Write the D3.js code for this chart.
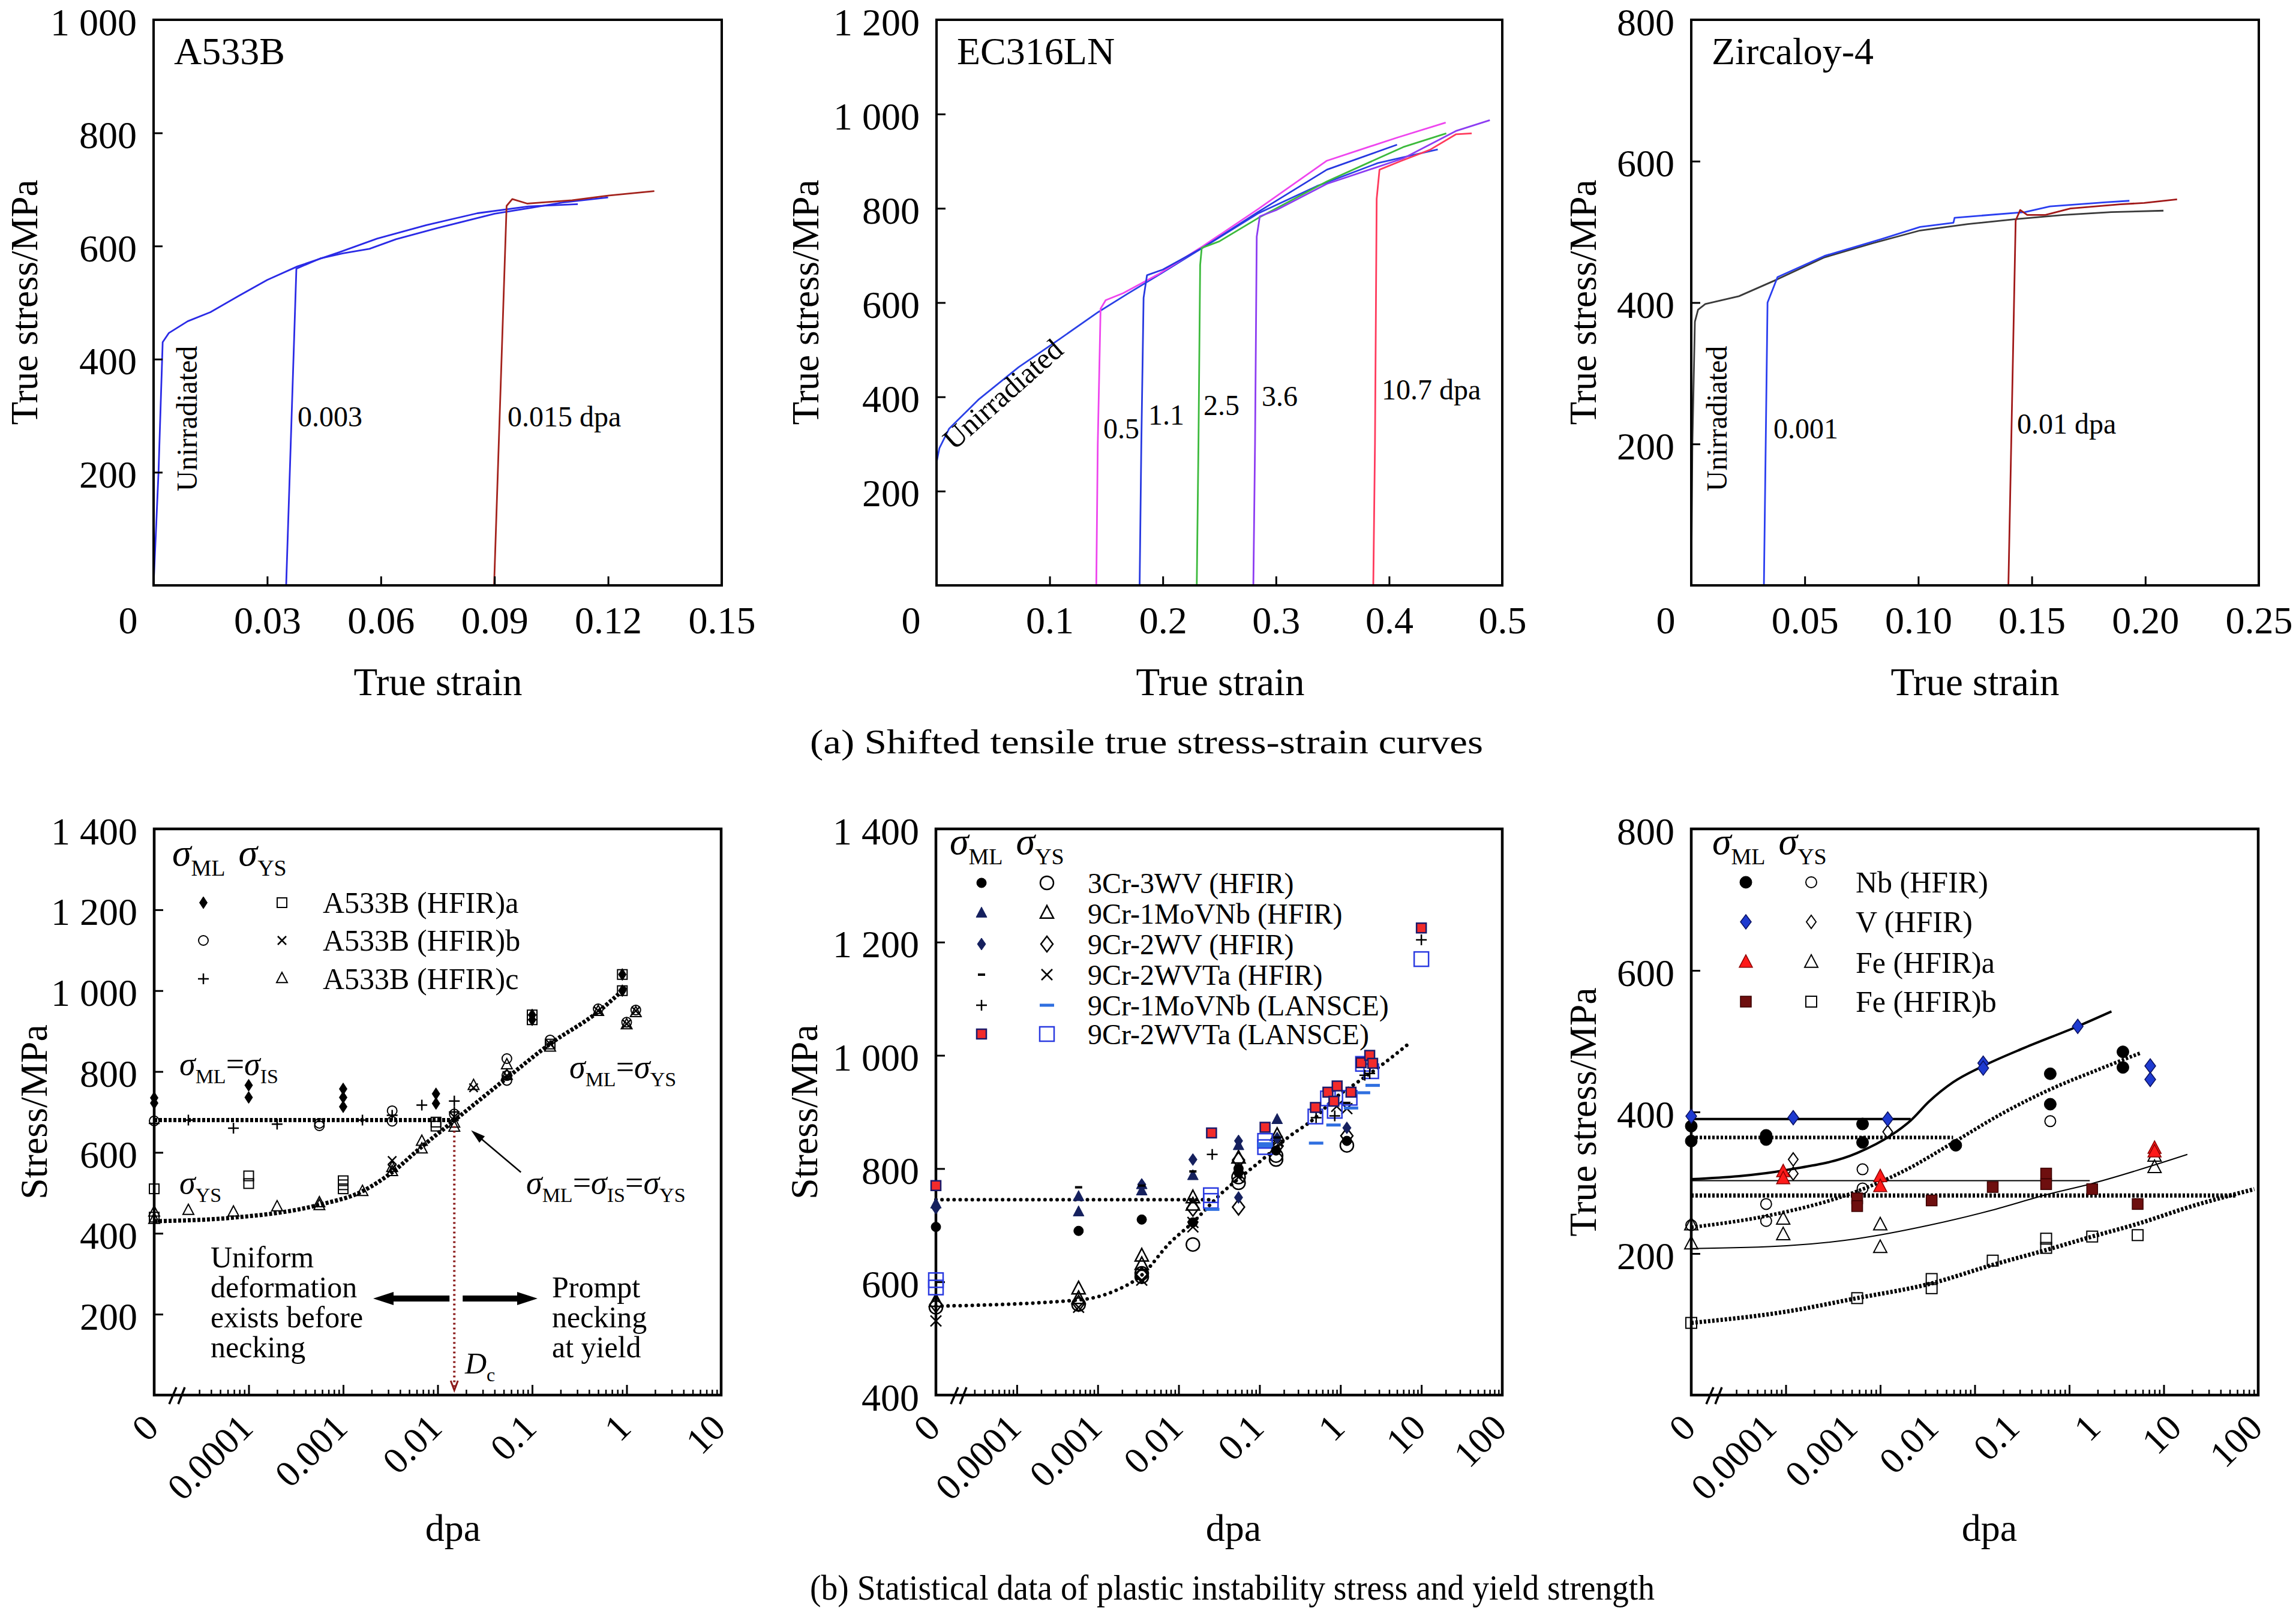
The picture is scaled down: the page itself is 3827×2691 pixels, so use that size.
<!DOCTYPE html>
<html><head><meta charset="utf-8">
<script src="https://cdn.jsdelivr.net/npm/d3@7"></script>
<style>
body{margin:0;background:#fff}
svg{display:block}
text{font-family:"Liberation Serif","Times New Roman",serif;fill:#000}
</style>
</head><body>
<svg id="c" width="3827" height="2691"></svg>
<script>
// ================= DATA =================
// Top row: tensile true stress-strain curves  [strain, stress]
const topLeftXTicks=[0,0.03,0.06,0.09,0.12,0.15];
const topLeftXLabels=["0","0.03","0.06","0.09","0.12","0.15"];
const topLeftYTicks=[200,400,600,800,1000];
const topLeftYLabels=["200","400","600","800","1 000"];
const a533bUnirr=[[0,0],[0.0013,200],[0.0024,430],[0.004,446],[0.009,467],[0.015,483],[0.0225,512],[0.030,540],[0.038,564],[0.049,589],[0.059,613],[0.072,637],[0.0855,658],[0.099,670],[0.112,674]];
const a533b003=[[0.035,0],[0.0377,560],[0.044,578],[0.05,587],[0.057,595],[0.064,612],[0.075,632],[0.09,657],[0.1,668],[0.108,677],[0.12,686]];
const a533b015=[[0.0899,0],[0.0932,671],[0.0947,683],[0.0987,675],[0.1105,681],[0.1197,689],[0.1322,697]];

const topMidXTicks=[0,0.1,0.2,0.3,0.4,0.5];
const topMidXLabels=["0","0.1","0.2","0.3","0.4","0.5"];
const topMidYTicks=[200,400,600,800,1000,1200];
const topMidYLabels=["200","400","600","800","1 000","1 200"];
const ecUnirr=[[0,260],[0.0025,291],[0.011,332],[0.0375,395],[0.0726,463],[0.1078,521],[0.143,580],[0.169,619],[0.196,658],[0.235,716],[0.284,789],[0.336,847],[0.39,896],[0.443,925]];
const ec05=[[0.1412,0],[0.1425,300],[0.145,587],[0.1495,605],[0.165,620],[0.196,660],[0.235,719],[0.284,798],[0.345,901],[0.407,950],[0.45,982]];
const ec11=[[0.1795,0],[0.181,300],[0.183,610],[0.186,658],[0.2,670],[0.235,716],[0.284,792],[0.345,882],[0.407,935]];
const ec25=[[0.23,0],[0.2315,300],[0.233,680],[0.2344,716],[0.25,730],[0.284,779],[0.345,857],[0.4125,930],[0.4505,959]];
const ec36=[[0.28,0],[0.2815,300],[0.283,740],[0.2857,783],[0.30,796],[0.345,852],[0.4125,906],[0.459,964],[0.489,987]];
const ec107=[[0.386,0],[0.3875,300],[0.389,820],[0.3915,882],[0.41,900],[0.436,924],[0.459,957],[0.473,959]];

const topRightXTicks=[0,0.05,0.10,0.15,0.20,0.25];
const topRightXLabels=["0","0.05","0.10","0.15","0.20","0.25"];
const topRightYTicks=[200,400,600,800];
const topRightYLabels=["200","400","600","800"];
const zrUnirr=[[0,0],[0.0005,200],[0.0016,373],[0.003,390],[0.0062,398],[0.021,409],[0.038,433],[0.0587,464],[0.08,484],[0.1008,502],[0.1218,511],[0.1429,518],[0.164,524],[0.185,528],[0.208,530]];
const zr001=[[0.032,0],[0.0336,400],[0.038,436],[0.0587,466],[0.084,490],[0.1008,507],[0.1155,513],[0.116,520],[0.147,528],[0.158,536],[0.183,542],[0.193,544]];
const zr01=[[0.1397,0],[0.1429,516],[0.1449,531],[0.148,524],[0.156,524],[0.167,533],[0.189,539],[0.1995,541],[0.214,546]];

// Bottom row: dpa axis ticks and labels
const dpaLabelValsA=[1e-5,1e-4,1e-3,1e-2,0.1,1,10];
const dpaLabelsA=["0","0.0001","0.001","0.01","0.1","1","10"];
const dpaLabelValsB=[1e-5,1e-4,1e-3,1e-2,0.1,1,10,100];
const dpaLabelsB=["0","0.0001","0.001","0.01","0.1","1","10","100"];
const bottomLeftYTicks=[200,400,600,800,1000,1200,1400];
const bottomLeftYLabels=["200","400","600","800","1 000","1 200","1 400"];
const bottomMidYTicks=[400,600,800,1000,1200,1400];
const bottomMidYLabels=["400","600","800","1 000","1 200","1 400"];
const bottomRightYTicks=[200,400,600,800];
const bottomRightYLabels=["200","400","600","800"];

// A533B  [dpa, stress]
const a533bNames=["A533B (HFIR)a","A533B (HFIR)b","A533B (HFIR)c"];
const a533bA_ML=[[0,735],[0,722],[1e-4,766],[1e-4,736],[1e-3,757],[1e-3,736],[1e-3,713],[0.0096,745],[0.0096,721],[0.1,940],[0.1,928],[0.9,1040],[0.9,1000]];
const a533bA_YS=[[0,510],[0,440],[1e-4,542],[1e-4,523],[1e-3,530],[1e-3,520],[1e-3,510],[0.0096,675],[0.0096,665],[0.1,940],[0.1,928],[0.155,868],[0.9,1040],[0.9,1000]];
const a533bB_ML=[[0,678],[5.6e-4,672],[5.6e-4,666],[0.0033,703],[0.0033,677],[0.015,695],[0.054,832],[0.054,790],[0.054,778],[0.155,878],[0.5,955],[1.0,922],[1.25,952]];
const a533bB_YS=[[0.0033,580],[0.0033,560],[0.015,688],[0.024,760],[0.054,790],[0.155,868],[0.5,950],[1.0,918],[1.25,950]];
const a533bC_ML=[[0,672],[2.3e-5,680],[6.9e-5,660],[2e-4,670],[1.6e-3,680],[0.0033,692],[0.0068,717],[0.015,727],[0.015,700]];
const a533bC_YS=[[0,452],[0,434],[2.3e-5,456],[6.9e-5,452],[2e-4,465],[5.6e-4,475],[5.6e-4,468],[1.6e-3,503],[0.0033,552],[0.0033,562],[0.0068,627],[0.0068,608],[0.015,672],[0.015,662],[0.024,765],[0.054,816],[0.054,790],[0.155,860],[0.5,948],[1.0,915],[1.25,945]];
const a533bFitML=[[0,680],[0.015,680]];
const a533bFitYS=[[0,430],[6.3e-5,438],[5.7e-4,471],[1.6e-3,504],[3.3e-3,551],[6.7e-3,613],[0.015,679],[0.054,784],[0.154,868],[0.5,948],[1.0,1010]];
const a533bDc=0.015;

// Ferritic steels
const steelNames=["3Cr-3WV (HFIR)","9Cr-1MoVNb (HFIR)","9Cr-2WV (HFIR)","9Cr-2WVTa (HFIR)","9Cr-1MoVNb (LANSCE)","9Cr-2WVTa (LANSCE)"];
const cr3wv_ML=[[0,697],[5.8e-4,690],[0.0035,710],[0.015,705],[0.055,793],[0.055,800],[0.16,832],[1.2,849]];
const cr3wv_YS=[[0,555],[5.8e-4,560],[0.0035,609],[0.0035,615],[0.015,666],[0.055,785],[0.055,775],[0.16,816],[0.16,823],[1.2,841]];
const moH_ML=[[0,737],[5.8e-4,750],[5.8e-4,723],[0.0035,760],[0.0035,771],[0.015,787],[0.055,840],[0.165,886]];
const moH_YS=[[0,565],[5.8e-4,587],[5.8e-4,570],[0.0035,645],[0.0035,630],[0.015,748],[0.015,735],[0.055,818],[0.165,858]];
const wv_ML=[[0,730],[0.0035,772],[0.015,816],[0.055,849],[0.055,749],[0.165,854],[1.2,872]];
const wv_YS=[[0,560],[5.8e-4,562],[0.0035,612],[0.015,730],[0.055,815],[0.055,732],[0.165,840],[1.2,858]];
const wvtaH_ML=[[5.8e-4,767],[0.0035,770],[0.015,795],[0.055,805],[0.165,855],[1.2,916]];
const wvtaH_YS=[[0,531],[5.8e-4,555],[0.0035,603],[0.015,697],[0.015,705],[0.055,785],[0.165,848],[0.9,910],[1.2,906]];
const moL_ML=[[0.026,825],[0.5,890],[0.85,893],[2.0,965],[2.3,968],[10,1204]];
const moL_YS=[[0.026,728],[0.117,844],[0.117,840],[0.5,845],[0.82,877],[1.35,907],[1.9,934],[2.5,947]];
const wvtaL_ML=[[0,770],[0.0255,863],[0.117,873],[0.49,908],[0.7,935],[0.83,919],[0.91,946],[1.35,935],[1.8,987],[2.3,1000],[2.5,986],[10,1225]];
const wvtaL_YS=[[0,603],[0,590],[0.025,753],[0.025,743],[0.117,849],[0.117,838],[0.49,892],[0.7,924],[0.85,902],[1.3,925],[1.9,985],[2.4,972],[10,1170]];
const steelFitML=[[0,745],[0.026,745]];
const steelFitYS=[[0,557],[5.8e-4,568],[1.5e-3,582],[0.0035,612],[7.8e-3,669],[0.015,705],[0.032,753],[0.117,820],[0.22,854],[0.48,889],[0.85,924],[1.6,952],[2.9,978],[6.9,1020]];

// Pure metals
const metalNames=["Nb (HFIR)","V (HFIR)","Fe (HFIR)a","Fe (HFIR)b"];
const nb_ML=[[0,380],[0,359],[6.2e-5,367],[6.2e-5,361],[6.5e-4,383],[6.5e-4,357],[6.3e-3,353],[0.063,454],[0.063,411],[0.37,485],[0.37,463]];
const nb_YS=[[0,240],[6.2e-5,270],[6.2e-5,246],[6.5e-4,319],[6.5e-4,292],[0.063,387]];
const v_ML=[[0,394],[1.2e-4,392],[1.2e-3,390],[0.0123,469],[0.0123,462],[0.123,521],[0.72,465],[0.72,446]];
const v_YS=[[1.2e-4,333],[1.2e-4,313],[1.2e-3,372]];
const feA_ML=[[9.4e-5,315],[9.4e-5,305],[0.001,308],[0.001,294],[0.8,348],[0.8,343]];
const feA_YS=[[0,240],[0,213],[9.4e-5,248],[9.4e-5,226],[0.001,240],[0.001,208],[0.8,337],[0.8,321]];
const feB_ML=[[5.7e-4,278],[5.7e-4,267],[3.5e-3,275],[0.0155,294],[0.057,313],[0.057,298],[0.175,291],[0.53,270]];
const feB_YS=[[0,102],[5.7e-4,137],[3.5e-3,164],[3.5e-3,151],[0.0155,190],[0.057,221],[0.057,208],[0.175,224],[0.53,226]];
const vFitML=[[0,390],[2.1e-3,390]];
const vFitYS=[[0,305],[1.02e-4,318],[5.7e-4,342],[1.3e-3,367],[2.1e-3,388],[3.3e-3,415],[5.9e-3,442],[0.0123,465],[0.034,491],[0.123,521],[0.28,542]];
const nbFitML=[[0,364],[5.9e-3,364]];
const nbFitYS=[[0,237],[6.2e-5,253],[5.7e-4,288],[1.86e-3,318],[6.3e-3,359],[0.019,397],[0.063,432],[0.195,459],[0.56,483]];
const feAFitML=[[0,303],[0.165,303]];
const feAFitYS=[[0,207],[1.02e-4,211],[5.7e-4,221],[3.3e-3,240],[0.015,261],[0.057,283],[0.175,299],[1.78,340]];
const feBFitML=[[0,282],[5.8,282]];
const feBFitYS=[[0,102],[1.02e-4,118],[5.7e-4,137],[3.3e-3,157],[0.0155,184],[0.057,205],[0.175,224],[0.53,242],[2.0,267],[9.1,291]];

// ================= DRAWING =================
const svg=d3.select('#c');
const FONT='"Liberation Serif","Times New Roman",serif';
const TOP_Y0=33, TOP_Y1=976, BOT_Y0=1382, BOT_Y1=2326;

function styleAxis(ax,size){
  ax.attr('font-family',FONT).attr('font-size',size);
  ax.select('.domain').remove();
  ax.selectAll('line').attr('stroke','#000').attr('stroke-width',3);
}
function txt(g,x,y,s,size,opt){
  opt=opt||{};
  const t=g.append('text').attr('x',x).attr('y',y).attr('font-size',size).text(s);
  if(opt.anchor) t.attr('text-anchor',opt.anchor);
  if(opt.rot!==undefined) t.attr('transform',`rotate(${opt.rot},${x},${y})`);
  if(opt.italic) t.attr('font-style','italic');
  if(opt.len) t.attr('textLength',opt.len).attr('lengthAdjust','spacingAndGlyphs');
  return t;
}
// text with italic sigma and subscripts
function rich(g,x,y,parts,size,sub){
  const t=g.append('text').attr('x',x).attr('y',y).attr('font-size',size);
  const sh=Math.round(size*0.26);
  let down=false;
  parts.forEach(p=>{
    const s=p[0],k=p[1]||'';
    const ts=t.append('tspan').text(s);
    if(k==='sub'){ts.attr('font-size',sub); if(!down){ts.attr('dy',sh);down=true;}}
    else{ if(down){ts.attr('dy',-sh);down=false;} if(k==='i')ts.attr('font-style','italic');}
    if(p[2]) ts.attr('dx',p[2]);
  });
  return t;
}

function topPanel(cfg){
  const g=svg.append('g');
  const x=d3.scaleLinear().domain(cfg.xd).range([cfg.x0,cfg.x1]);
  const y=d3.scaleLinear().domain(cfg.yd).range([TOP_Y1,TOP_Y0]);
  const line=d3.line().x(d=>x(d[0])).y(d=>y(d[1]));
  cfg.curves.forEach(c=>{
    g.append('path').attr('d',line(c.data)).attr('fill','none').attr('stroke',c.color)
     .attr('stroke-width',2.8).attr('stroke-linejoin','round');
  });
  const ax=g.append('g').attr('transform',`translate(0,${TOP_Y1})`)
    .call(d3.axisBottom(x).tickValues(cfg.xt).tickSize(-15).tickFormat((d,i)=>cfg.xl[i]));
  styleAxis(ax,64);
  ax.selectAll('text').attr('y',80).attr('dy',0).attr('x',d=>d===0?-43:0);
  ax.selectAll('.tick').filter(d=>d===cfg.xd[0]||d===cfg.xd[1]).select('line').remove();
  const ay=g.append('g').attr('transform',`translate(${cfg.x0},0)`)
    .call(d3.axisLeft(y).tickValues(cfg.yt).tickSize(-15).tickPadding(28).tickFormat((d,i)=>cfg.yl[i]));
  styleAxis(ay,64);
  ay.selectAll('text').attr('dy',25);
  ay.selectAll('.tick').filter(d=>d===cfg.yd[1]).select('line').remove();
  g.append('rect').attr('x',cfg.x0).attr('y',TOP_Y0).attr('width',cfg.x1-cfg.x0).attr('height',TOP_Y1-TOP_Y0)
    .attr('fill','none').attr('stroke','#000').attr('stroke-width',4);
  txt(g,cfg.ylabX,504,'True stress/MPa',63,{anchor:'middle',rot:-90});
  txt(g,cfg.xlabX,1159,'True strain',65,{anchor:'middle'});
  txt(g,cfg.x0+34,107,cfg.name,64);
  return {g,x,y};
}

// markers
function mark(g,st,cx,cy){
  const s=st.s||16, sw=st.sw||2.5, stroke=st.stroke||'#000', fill=st.fill||'none';
  let el;
  switch(st.shape){
    case 'diamond':
      el=g.append('path').attr('d',`M${cx},${cy-st.h/2}L${cx+st.w/2},${cy}L${cx},${cy+st.h/2}L${cx-st.w/2},${cy}Z`);break;
    case 'square':
      el=g.append('rect').attr('x',cx-s/2).attr('y',cy-s/2).attr('width',s).attr('height',s);break;
    case 'circle':
      el=g.append('circle').attr('cx',cx).attr('cy',cy).attr('r',st.r);break;
    case 'tri':
      el=g.append('path').attr('d',`M${cx},${cy-0.6*s}L${cx+0.5*s},${cy+0.35*s}L${cx-0.5*s},${cy+0.35*s}Z`);break;
    case 'times':
      el=g.append('path').attr('d',`M${cx-s/2},${cy-s/2}L${cx+s/2},${cy+s/2}M${cx+s/2},${cy-s/2}L${cx-s/2},${cy+s/2}`);break;
    case 'plus':
      el=g.append('path').attr('d',`M${cx-s/2},${cy}L${cx+s/2},${cy}M${cx},${cy-s/2}L${cx},${cy+s/2}`);break;
    case 'dash':
      el=g.append('rect').attr('x',cx-st.w/2).attr('y',cy-st.h/2).attr('width',st.w).attr('height',st.h);break;
  }
  el.attr('fill',fill).attr('stroke',st.shape==='dash'?'none':stroke).attr('stroke-width',sw);
}

function bottomPanel(cfg){
  const g=svg.append('g');
  const x=d3.scaleLog().domain(cfg.xd).range([cfg.x0,cfg.x1]);
  const xl=d3.scaleLog().domain(cfg.labelDomain||cfg.xd).range([cfg.x0,cfg.x1]);
  const y=d3.scaleLinear().domain(cfg.yd).range([BOT_Y1,BOT_Y0]);
  const px=d=>d<=0?cfg.x0:x(d);
  // ticks
  const lo=Math.round(Math.log10(cfg.xd[0])), hi=Math.round(Math.log10(cfg.xd[1]));
  const majors=[],minors=[];
  for(let e=lo;e<hi;e++){
    majors.push(Math.pow(10,e+1));
    for(let k=2;k<=9;k++){ if(e===lo&&k<3)continue; minors.push(k*Math.pow(10,e)); }
  }
  const am=g.append('g').attr('transform',`translate(0,${BOT_Y1})`)
    .call(d3.axisBottom(x).tickValues(majors.filter(v=>v<cfg.xd[1])).tickSize(-17).tickFormat(''));
  styleAxis(am,10);
  const an=g.append('g').attr('transform',`translate(0,${BOT_Y1})`)
    .call(d3.axisBottom(x).tickValues(minors).tickSize(-9).tickFormat(''));
  styleAxis(an,10);
  an.selectAll('line').attr('stroke-width',2.5);
  const al=g.append('g').attr('transform',`translate(0,${BOT_Y1})`)
    .call(d3.axisBottom(xl).tickValues(cfg.labelVals).tickSize(0).tickFormat((d,i)=>cfg.labels[i]));
  styleAxis(al,62);
  al.selectAll('text').attr('x',0).attr('y',0).attr('dy',0).attr('text-anchor','end')
    .attr('transform','translate(10,58) rotate(-45)');
  const ay=g.append('g').attr('transform',`translate(${cfg.x0},0)`)
    .call(d3.axisLeft(y).tickValues(cfg.yt).tickSize(-15).tickPadding(28).tickFormat((d,i)=>cfg.yl[i]));
  styleAxis(ay,64);
  ay.selectAll('text').attr('dy',25);
  ay.selectAll('.tick').filter(d=>d===cfg.yd[1]||d===cfg.yd[0]).select('line').remove();
  g.append('rect').attr('x',cfg.x0).attr('y',BOT_Y0).attr('width',cfg.x1-cfg.x0).attr('height',BOT_Y1-BOT_Y0)
    .attr('fill','none').attr('stroke','#000').attr('stroke-width',4.5);
  // axis break
  [[25,37],[40,51]].forEach(b=>{
    g.append('line').attr('x1',cfg.x0+b[0]).attr('y1',BOT_Y1+15).attr('x2',cfg.x0+b[1]).attr('y2',BOT_Y1-13)
      .attr('stroke','#000').attr('stroke-width',3.5);
  });
  txt(g,cfg.ylabX,1854,cfg.ylab,64,{anchor:'middle',rot:-90});
  txt(g,cfg.dpaX,2569,'dpa',64,{anchor:'middle'});
  return {g,x,y,px};
}

function fit(P,data,st){
  const line=d3.line().x(d=>P.px(d[0])).y(d=>P.y(d[1])).curve(d3.curveMonotoneX);
  P.g.append('path').attr('d',line(data)).attr('fill','none').attr('stroke',st.color||'#000')
    .attr('stroke-width',st.w).attr('stroke-dasharray',st.dash||null).attr('stroke-linecap',st.cap||'butt');
}
function scatter(P,data,st){
  const gg=P.g.append('g');
  data.forEach(d=>mark(gg,st,P.px(d[0]),P.y(d[1])));
}
function legend(g,cfg){
  rich(g,cfg.hx,cfg.hy,[['σ','i'],['ML','sub'],['σ','i',cfg.gap],['YS','sub']],64,38);
  cfg.rows.forEach((r,i)=>{
    const yy=cfg.ys[i];
    mark(g,r[0],cfg.mx,yy);
    mark(g,r[1],cfg.yx,yy);
    txt(g,cfg.lx,yy+17,r[2],cfg.fs);
  });
}

// ---------- TOP ROW ----------
const TL=topPanel({x0:256,x1:1203,xd:[0,0.15],yd:[0,1000],xt:topLeftXTicks,xl:topLeftXLabels,yt:topLeftYTicks,yl:topLeftYLabels,
  curves:[{data:a533bUnirr,color:'#2a2ae6'},{data:a533b003,color:'#2a2ae6'},{data:a533b015,color:'#a3221c'}],
  ylabX:62,xlabX:730,name:'A533B'});
txt(TL.g,328,698,'Unirradiated',48,{anchor:'middle',rot:-90});
txt(TL.g,496,711,'0.003',48);
txt(TL.g,846,711,'0.015 dpa',48);

const TM=topPanel({x0:1561,x1:2504,xd:[0,0.5],yd:[0,1200],xt:topMidXTicks,xl:topMidXLabels,yt:topMidYTicks,yl:topMidYLabels,
  curves:[{data:ecUnirr,color:'#2a40e6'},{data:ec05,color:'#ee45ee'},{data:ec11,color:'#2638e0'},{data:ec25,color:'#3cba3c'},
          {data:ec36,color:'#8c3cf2'},{data:ec107,color:'#ff3a5c'}],
  ylabX:1364,xlabX:2034,name:'EC316LN'});
txt(TM.g,1590,752,'Unirradiated',49,{rot:-41.6});
txt(TM.g,1839,731,'0.5',48);
txt(TM.g,1914,708,'1.1',48);
txt(TM.g,2006,692,'2.5',48);
txt(TM.g,2103,677,'3.6',48);
txt(TM.g,2303,666,'10.7 dpa',48);

const TR=topPanel({x0:2819,x1:3765,xd:[0,0.25],yd:[0,800],xt:topRightXTicks,xl:topRightXLabels,yt:topRightYTicks,yl:topRightYLabels,
  curves:[{data:zrUnirr,color:'#3a3a3a'},{data:zr001,color:'#2a3ef0'},{data:zr01,color:'#a01818'}],
  ylabX:2660,xlabX:3292,name:'Zircaloy-4'});
txt(TR.g,2878,698,'Unirradiated',48,{anchor:'middle',rot:-90});
txt(TR.g,2956,731,'0.001',48);
txt(TR.g,3362,723,'0.01 dpa',48);

txt(svg,1350,1256,'(a) Shifted tensile true stress-strain curves',58,{len:1122});

// ---------- BOTTOM LEFT ----------
const BL=bottomPanel({x0:257,x1:1202,xd:[1e-5,10],yd:[0,1400],labelVals:dpaLabelValsA,labels:dpaLabelsA,
  yt:bottomLeftYTicks,yl:bottomLeftYLabels,ylabX:78,ylab:'Stress/MPa',dpaX:755});
const stBL={
  aML:{shape:'diamond',w:13,h:20,fill:'#000',sw:1},
  aYS:{shape:'square',s:16,sw:2},
  bML:{shape:'circle',r:8,sw:2},
  bYS:{shape:'times',s:14,sw:2.5},
  cML:{shape:'plus',s:18,sw:2.5},
  cYS:{shape:'tri',s:18,sw:2}
};
fit(BL,a533bFitML,{w:7,dash:'5,3'});
fit(BL,a533bFitYS,{w:7,dash:'5,3'});
scatter(BL,a533bA_YS,stBL.aYS);
scatter(BL,a533bC_YS,stBL.cYS);
scatter(BL,a533bB_YS,stBL.bYS);
scatter(BL,a533bB_ML,stBL.bML);
scatter(BL,a533bC_ML,stBL.cML);
scatter(BL,a533bA_ML,stBL.aML);
legend(BL.g,{hx:287,hy:1443,gap:22,mx:339,yx:470,lx:538,fs:50,ys:[1505,1568,1632],
  rows:[[stBL.aML,stBL.aYS,a533bNames[0]],[stBL.bML,stBL.bYS,a533bNames[1]],[stBL.cML,stBL.cYS,a533bNames[2]]]});
// Dc marker
const dcX=BL.px(a533bDc), dcY=BL.y(a533bFitML[0][1]);
BL.g.append('line').attr('x1',dcX).attr('x2',dcX).attr('y1',dcY+10).attr('y2',BOT_Y1-14)
  .attr('stroke','#8b1a1a').attr('stroke-width',4).attr('stroke-dasharray','3,5');
BL.g.append('path').attr('d',`M${dcX-6},${BOT_Y1-24}L${dcX},${BOT_Y1-8}L${dcX+6},${BOT_Y1-24}`)
  .attr('fill','none').attr('stroke','#8b1a1a').attr('stroke-width',3);
// pointer arrow
const tipX=dcX+28, tipY=dcY+17, tailX=dcX+111, tailY=dcY+87;
BL.g.append('line').attr('x1',tailX).attr('y1',tailY).attr('x2',tipX+6).attr('y2',tipY+5).attr('stroke','#000').attr('stroke-width',2.5);
{
  const ang=Math.atan2(tipY-tailY,tipX-tailX), L=24, W=7;
  const bx=tipX-L*Math.cos(ang), by=tipY-L*Math.sin(ang);
  const nx=-Math.sin(ang)*W, ny=Math.cos(ang)*W;
  BL.g.append('path').attr('d',`M${tipX},${tipY}L${bx+nx},${by+ny}L${bx-nx},${by-ny}Z`).attr('fill','#000');
}
// double arrows
function fatArrow(g,xFrom,xTip,yc){
  const dir=Math.sign(xTip-xFrom), hl=34, bh=5, hh=11;
  const xb=xTip-dir*hl;
  g.append('path').attr('d',`M${xFrom},${yc-bh}L${xb},${yc-bh}L${xb},${yc-hh}L${xTip},${yc}L${xb},${yc+hh}L${xb},${yc+bh}L${xFrom},${yc+bh}Z`).attr('fill','#000');
}
fatArrow(BL.g,dcX-8,622,2165);
fatArrow(BL.g,dcX+14,896,2165);
rich(BL.g,299,1792,[['σ','i'],['ML','sub'],['='],['σ','i'],['IS','sub']],54,34);
rich(BL.g,299,1990,[['σ','i'],['YS','sub']],54,34);
rich(BL.g,949,1797,[['σ','i'],['ML','sub'],['='],['σ','i'],['YS','sub']],54,34);
rich(BL.g,877,1990,[['σ','i'],['ML','sub'],['='],['σ','i'],['IS','sub'],['='],['σ','i'],['YS','sub']],54,34);
['Uniform','deformation','exists before','necking'].forEach((s,i)=>txt(BL.g,351,2113+i*50,s,50));
['Prompt','necking','at yield'].forEach((s,i)=>txt(BL.g,920,2163+i*50,s,50));
rich(BL.g,775,2290,[['D','i'],['c','sub']],50,32);

// ---------- BOTTOM MIDDLE ----------
const BM=bottomPanel({x0:1560,x1:2504,xd:[1e-5,100],yd:[400,1400],labelVals:dpaLabelValsB,labels:dpaLabelsB,
  yt:bottomMidYTicks,yl:bottomMidYLabels,ylabX:1362,ylab:'Stress/MPa',dpaX:2056});
const NAVY='#15205e';
const stBM={
  c3ML:{shape:'circle',r:8,fill:'#000',sw:1},
  c3YS:{shape:'circle',r:11,sw:2.5},
  moHML:{shape:'tri',s:18,fill:NAVY,stroke:NAVY,sw:1},
  moHYS:{shape:'tri',s:22,sw:2.5},
  wvML:{shape:'diamond',w:14,h:20,fill:NAVY,stroke:NAVY,sw:1},
  wvYS:{shape:'diamond',w:20,h:26,sw:2.5},
  taHML:{shape:'dash',w:12,h:4,fill:'#000'},
  taHYS:{shape:'times',s:18,sw:2.5},
  moLML:{shape:'plus',s:18,sw:2.5},
  moLYS:{shape:'dash',w:24,h:5,fill:'#2f6fe0'},
  taLML:{shape:'square',s:16,fill:'#f22b2b',stroke:'#1a1a6b',sw:2.5},
  taLYS:{shape:'square',s:24,stroke:'#2a3ae0',sw:2.5}
};
fit(BM,steelFitML,{w:6,dash:'0.1,10',cap:'round'});
fit(BM,steelFitYS,{w:6,dash:'0.1,10',cap:'round'});
scatter(BM,cr3wv_YS,stBM.c3YS);
scatter(BM,moH_YS,stBM.moHYS);
scatter(BM,wv_YS,stBM.wvYS);
scatter(BM,wvtaH_YS,stBM.taHYS);
scatter(BM,wvtaL_YS,stBM.taLYS);
scatter(BM,moL_YS,stBM.moLYS);
scatter(BM,cr3wv_ML,stBM.c3ML);
scatter(BM,moH_ML,stBM.moHML);
scatter(BM,wv_ML,stBM.wvML);
scatter(BM,wvtaH_ML,stBM.taHML);
scatter(BM,moL_ML,stBM.moLML);
scatter(BM,wvtaL_ML,stBM.taLML);
legend(BM.g,{hx:1583,hy:1424,gap:22,mx:1636,yx:1745,lx:1813,fs:48,ys:[1472,1523,1574,1625,1676,1724],
  rows:[[stBM.c3ML,stBM.c3YS,steelNames[0]],[stBM.moHML,stBM.moHYS,steelNames[1]],[stBM.wvML,stBM.wvYS,steelNames[2]],
        [stBM.taHML,stBM.taHYS,steelNames[3]],[stBM.moLML,stBM.moLYS,steelNames[4]],[stBM.taLML,stBM.taLYS,steelNames[5]]]});

// ---------- BOTTOM RIGHT ----------
const BR=bottomPanel({x0:2819,x1:3764,xd:[1e-5,10],labelDomain:[1e-5,100],yd:[0,800],labelVals:dpaLabelValsB,labels:dpaLabelsB,
  yt:bottomRightYTicks,yl:bottomRightYLabels,ylabX:2660,ylab:'True stress/MPa',dpaX:3316});
const stBR={
  nbML:{shape:'circle',r:10,fill:'#000',sw:1},
  nbYS:{shape:'circle',r:9,sw:2},
  vML:{shape:'diamond',w:18,h:24,fill:'#1e3ad0',stroke:'#0a1060',sw:1.5},
  vYS:{shape:'diamond',w:16,h:22,sw:2},
  faML:{shape:'tri',s:22,fill:'#ff1a1a',stroke:'#8a0000',sw:1.5},
  faYS:{shape:'tri',s:22,sw:2},
  fbML:{shape:'square',s:18,fill:'#6e0f0f',stroke:'#3a0000',sw:1.5},
  fbYS:{shape:'square',s:18,sw:2}
};
fit(BR,vFitML,{w:4});
fit(BR,vFitYS,{w:4});
fit(BR,nbFitML,{w:6,dash:'4,3'});
fit(BR,nbFitYS,{w:6,dash:'4,3'});
fit(BR,feAFitML,{w:2});
fit(BR,feAFitYS,{w:2});
fit(BR,feBFitML,{w:7,dash:'4,3'});
fit(BR,feBFitYS,{w:7,dash:'4,3'});
scatter(BR,nb_YS,stBR.nbYS);
scatter(BR,v_YS,stBR.vYS);
scatter(BR,feA_YS,stBR.faYS);
scatter(BR,feB_YS,stBR.fbYS);
scatter(BR,nb_ML,stBR.nbML);
scatter(BR,v_ML,stBR.vML);
scatter(BR,feA_ML,stBR.faML);
scatter(BR,feB_ML,stBR.fbML);
legend(BR.g,{hx:2854,hy:1424,gap:22,mx:2910,yx:3019,lx:3093,fs:50,ys:[1471,1537,1605,1670],
  rows:[[stBR.nbML,stBR.nbYS,metalNames[0]],[stBR.vML,stBR.vYS,metalNames[1]],[stBR.faML,stBR.faYS,metalNames[2]],[stBR.fbML,stBR.fbYS,metalNames[3]]]});

txt(svg,1350,2667,'(b) Statistical data of plastic instability stress and yield strength',60,{len:1408});
</script>
</body></html>
